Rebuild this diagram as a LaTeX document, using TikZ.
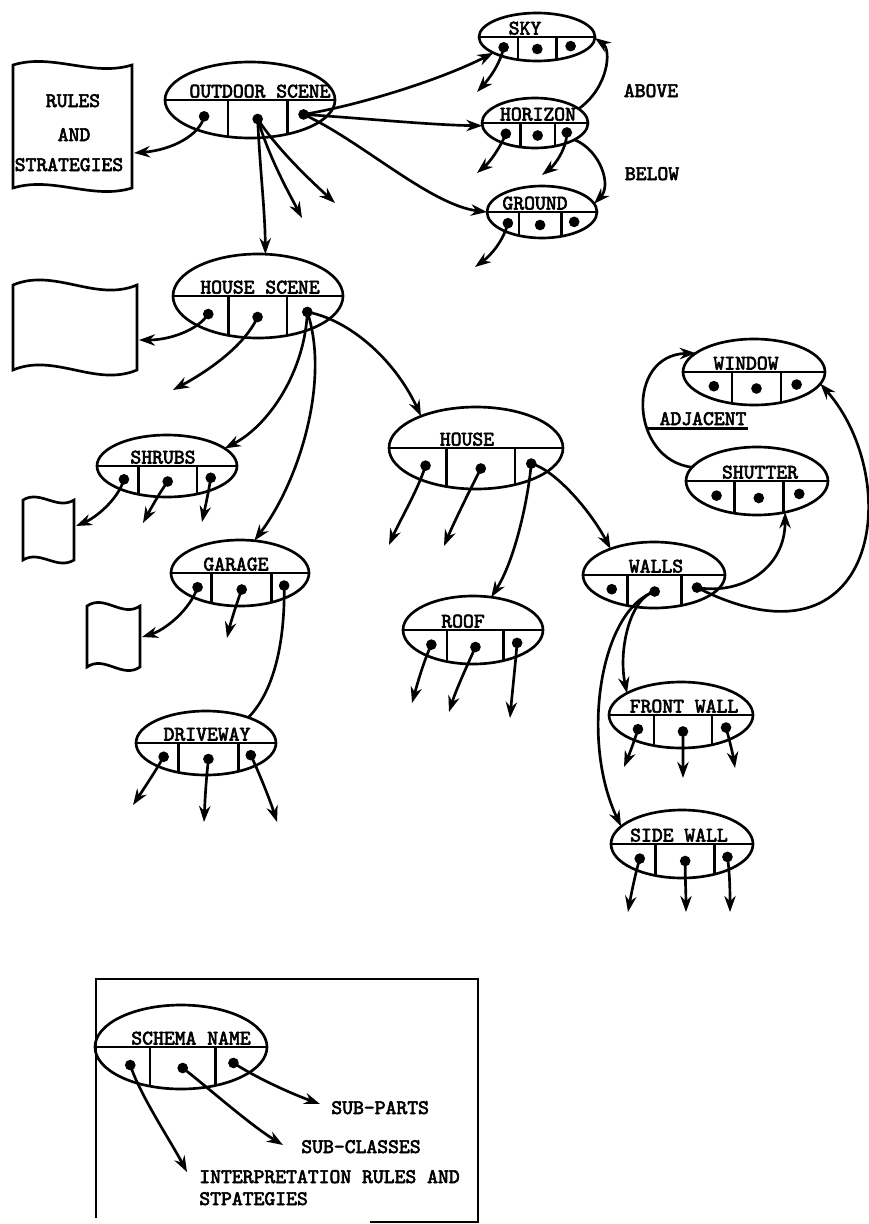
\documentclass[tikz,border=0pt]{standalone}
\usepackage{fontspec}
\newfontfamily\tw{lmmono10-regular.otf}[FakeBold=3]
\usetikzlibrary{arrows.meta,shapes.geometric}
\tikzset{
  schemabox/.style={draw, ellipse, inner sep=0pt, outer sep=0pt},
  dotn/.style={circle, fill, inner sep=0pt, minimum size=8pt},
  lbl/.style={font=\tw\fontsize{15.5}{18}\selectfont, inner sep=0pt},
  arr/.style={-{Stealth[length=12pt,width=8.5pt]}},
}
% name, cx, cy, rx, ry, left divider, right divider, label, label x
\newcommand\schema[9]{%
  \node[schemabox, minimum width={#4*1.5pt}, minimum height={#5*1.5pt}] (#1) at (#2,#3) {};
  \draw (#1.west) -- (#1.east);
  \draw ({#2-#6*#4},#3) -- ({#2-#6*#4},{#3+#5*sqrt(1-#6*#6)});
  \draw ({#2+#7*#4},#3) -- ({#2+#7*#4},{#3+#5*sqrt(1-#7*#7)});
  \node[lbl, anchor=base] (#1-t) at (#9,{#3-2.5}) {#8};
  \node[dotn] (#1-a) at ({#2-#4*(0.82+#6)/2},{#3+0.43*#5}) {};
  \node[dotn] (#1-b) at ({#2+#4*(#7-#6)/2},{#3+0.5*#5}) {};
  \node[dotn] (#1-c) at ({#2+#4*(0.82+#7)/2},{#3+0.38*#5}) {};
}
% wavy document outline: x1, ytop, x2, ybottom, amplitude
\newcommand\docbox[5]{%
  \draw (#1,#2) .. controls ({#1+(#3-#1)/3},{#2-3.5*#5}) and ({#1+2*(#3-#1)/3},{#2+3.5*#5}) .. (#3,#2)
    -- (#3,#4) .. controls ({#1+2*(#3-#1)/3},{#4+3.5*#5}) and ({#1+(#3-#1)/3},{#4-3.5*#5}) .. (#1,#4) -- cycle;
}
\begin{document}
\begin{tikzpicture}[x=0.75pt,y=-0.75pt,line width=2pt]
\useasboundingbox (0,0) rectangle (868,1224);

% ---------- schemas ----------
\schema{os}{250}{100}{85}{38}{0.26}{0.44}{OUTDOOR SCENE}{260}
\schema{sky}{537}{37}{58}{24}{0.33}{0.34}{SKY}{525}
\schema{hz}{535}{123}{53}{25}{0.28}{0.38}{HORIZON}{538}
\schema{gr}{542}{212}{55}{26}{0.42}{0.35}{GROUND}{535}
\schema{hs}{258}{296}{85}{42}{0.35}{0.34}{HOUSE SCENE}{260}
\schema{sh}{167}{466}{70}{31}{0.41}{0.43}{SHRUBS}{163}
\schema{ga}{240}{573}{69}{33}{0.41}{0.46}{GARAGE}{236}
\schema{dw}{206}{743}{70}{32}{0.39}{0.46}{DRIVEWAY}{207}
\schema{ho}{476}{448}{87}{41}{0.34}{0.45}{HOUSE}{467}
\schema{rf}{473}{630}{70}{34}{0.37}{0.44}{ROOF}{463}
\schema{wa}{654}{575}{71}{33}{0.37}{0.39}{WALLS}{656}
\schema{su}{757}{481}{71}{34}{0.32}{0.37}{SHUTTER}{760}
\schema{wi}{754}{372}{71}{33}{0.31}{0.38}{WINDOW}{746}
\schema{fw}{681}{715}{72}{33}{0.375}{0.43}{FRONT WALL}{684}
\schema{sw}{682}{844}{71}{34}{0.37}{0.46}{SIDE WALL}{679}
\schema{sn}{181}{1047}{86}{42}{0.36}{0.40}{SCHEMA NAME}{191}

% ---------- rule boxes ----------
\docbox{13}{65}{132}{188}{3.5}
\node[lbl, anchor=base] (r1a) at (73,107) {RULES};
\node[lbl, anchor=base] (r1b) at (74,141) {AND};
\node[lbl, anchor=base] (r1c) at (69,171) {STRATEGIES};
\coordinate (rules1) at (134,153);
\docbox{13}{285}{137}{370}{5}
\coordinate (rules2) at (139,340);
\docbox{23}{500}{74}{560}{3}
\coordinate (rules3) at (76,526);
\docbox{87}{606}{140}{667}{3.5}
\coordinate (rules4) at (142,637);

% ---------- labels ----------
\node[lbl, anchor=base] (above) at (651,97) {ABOVE};
\node[lbl, anchor=base] (below) at (652,180) {BELOW};
\node[lbl, anchor=base] (adj) at (703,425) {ADJACENT};
\draw ([xshift=-8pt,yshift=-2.5pt]adj.base west) -- ([yshift=-2.5pt]adj.base east);

% ---------- stub end points ----------
\coordinate (os-s1) at (302,218);
\coordinate (os-s2) at (335,203);
\coordinate (sky-s1) at (477,92);
\coordinate (hz-s1) at (477,173);
\coordinate (hz-s2) at (542,175);
\coordinate (gr-s1) at (475,267);
\coordinate (hs-s1) at (173,390);
\coordinate (sh-s1) at (143,523);
\coordinate (sh-s2) at (202,522);
\coordinate (ga-s1) at (227,638);
\coordinate (dw-s1) at (133,805);
\coordinate (dw-s2) at (204,822);
\coordinate (dw-s3) at (277,822);
\coordinate (ho-s1) at (389,545);
\coordinate (ho-s2) at (444,546);
\coordinate (rf-s1) at (412,703);
\coordinate (rf-s2) at (449,712);
\coordinate (rf-s3) at (510,718);
\coordinate (fw-s1) at (624,767);
\coordinate (fw-s2) at (683,778);
\coordinate (fw-s3) at (735,768);
\coordinate (sw-s1) at (628,912);
\coordinate (sw-s2) at (686,912);
\coordinate (sw-s3) at (730,912);
\coordinate (sn-s1) at (187,1172);
\coordinate (sn-s2) at (283,1145);
\coordinate (sn-s3) at (320,1104);

% ---------- connectors ----------
% outdoor scene
\draw[arr] (os-a.center) .. controls (200,135) and (172,150) .. (rules1);
\draw[arr] (os-b.center) .. controls (260,170) and (265,210) .. (hs.80);
\draw[arr] (os-b.center) .. controls (270,160) and (290,195) .. (os-s1);
\draw[arr] (os-b.center) .. controls (278,150) and (310,180) .. (os-s2);
\draw[arr] (os-c.center) .. controls (360,105) and (440,80) .. (sky.200);
\draw[arr] (os-c.center) .. controls (360,118) and (430,125) .. (hz.183);
\draw[arr] (os-c.center) .. controls (360,140) and (430,205) .. (gr.180);
% sky / horizon / ground
\draw[arr] (sky-a.center) .. controls (500,65) and (488,80) .. (sky-s1);
\draw[arr] (hz.18) .. controls (608,88) and (612,50) .. (sky.359);
\draw[arr] (hz-a.center) .. controls (500,148) and (490,162) .. (hz-s1);
\draw[arr] (hz-c.center) .. controls (567,148) and (555,165) .. (hz-s2);
\draw[arr] (hz.337) .. controls (600,150) and (612,185) .. (gr.9);
\draw[arr] (gr-a.center) .. controls (503,242) and (490,256) .. (gr-s1);
% house scene
\draw[arr] (hs-a.center) .. controls (198,330) and (170,340) .. (rules2);
\draw[arr] (hs-b.center) .. controls (245,345) and (210,370) .. (hs-s1);
\draw[arr] (hs-c.center) .. controls (305,370) and (270,425) .. (sh.17);
\draw[arr] (hs-c.center) .. controls (330,380) and (300,480) .. (ga.66);
\draw[arr] (hs-c.center) .. controls (350,320) and (395,360) .. (ho.150);
% shrubs
\draw[arr] (sh-a.center) .. controls (118,500) and (95,518) .. (rules3);
\draw[arr] (sh-b.center) .. controls (160,492) and (150,510) .. (sh-s1);
\draw[arr] (sh-c.center) .. controls (209,490) and (205,508) .. (sh-s2);
% garage
\draw[arr] (ga-a.center) .. controls (190,610) and (165,630) .. (rules4);
\draw[arr] (ga-b.center) .. controls (236,605) and (230,625) .. (ga-s1);
\draw (ga-c.center) .. controls (285,640) and (275,690) .. (dw.31);
% driveway
\draw[arr] (dw-a.center) .. controls (155,772) and (143,790) .. (dw-s1);
\draw[arr] (dw-b.center) .. controls (206,780) and (205,800) .. (dw-s2);
\draw[arr] (dw-c.center) .. controls (260,775) and (270,800) .. (dw-s3);
% house
\draw[arr] (ho-a.center) .. controls (418,490) and (400,520) .. (ho-s1);
\draw[arr] (ho-b.center) .. controls (470,490) and (455,520) .. (ho-s2);
\draw[arr] (ho-c.center) .. controls (528,500) and (515,560) .. (rf.61);
\draw[arr] (ho-c.center) .. controls (555,470) and (590,510) .. (wa.149);
% roof
\draw[arr] (rf-a.center) .. controls (423,663) and (417,685) .. (rf-s1);
\draw[arr] (rf-b.center) .. controls (466,668) and (456,690) .. (rf-s2);
\draw[arr] (rf-c.center) .. controls (515,668) and (512,695) .. (rf-s3);
% walls
\draw[arr] (wa-b.center) .. controls (630,598) and (618,650) .. (fw.158);
\draw[arr] (wa-b.center) .. controls (600,610) and (580,740) .. (sw.164);
\draw[arr] (wa-c.center) .. controls (740,595) and (785,570) .. (su.312);
\draw[arr] (wa-c.center) .. controls (880,680) and (905,480) .. (wi.350);
\draw[arr] (su.168) .. controls (630,460) and (625,355) .. (wi.162);
% front wall / side wall
\draw[arr] (fw-a.center) .. controls (634,742) and (629,755) .. (fw-s1);
\draw[arr] (fw-b.center) .. controls (683,745) and (683,762) .. (fw-s2);
\draw[arr] (fw-c.center) .. controls (730,742) and (733,755) .. (fw-s3);
\draw[arr] (sw-a.center) .. controls (635,875) and (631,895) .. (sw-s1);
\draw[arr] (sw-b.center) .. controls (685,875) and (686,895) .. (sw-s2);
\draw[arr] (sw-c.center) .. controls (730,875) and (730,895) .. (sw-s3);

% ---------- legend ----------
\draw (370,1222) -- (478,1222) -- (478,979) -- (96,979) -- (96,1218);
\draw[arr] (sn-a.center) .. controls (140,1095) and (170,1140) .. (sn-s1);
\draw[arr] (sn-b.center) .. controls (205,1085) and (250,1125) .. (sn-s2);
\draw[arr] (sn-c.center) .. controls (260,1080) and (295,1095) .. (sn-s3);
\node[lbl, anchor=base west] (subp) at (330,1114) {SUB-PARTS};
\node[lbl, anchor=base west] (subc) at (300,1153) {SUB-CLASSES};
\node[lbl, anchor=base west] (interp1) at (198,1183) {INTERPRETATION RULES AND};
\node[lbl, anchor=base west] (interp2) at (198,1205) {STPATEGIES};
\end{tikzpicture}
\end{document}
